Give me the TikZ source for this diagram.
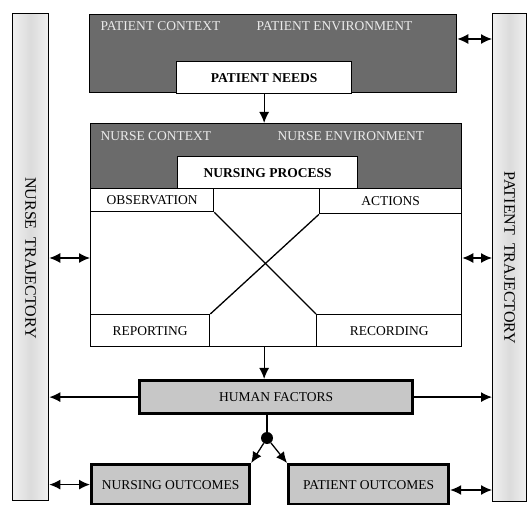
\documentclass[tikz,border=0pt]{standalone}
\usepackage{fontspec}
\setmainfont{Liberation Serif}
\usetikzlibrary{arrows.meta,positioning}

\begin{document}
\begin{tikzpicture}[x=1pt,y=-1pt,
    font=\fontsize{13.5}{15}\selectfont,
    box/.style={draw,line width=1.3pt,inner sep=0pt,anchor=north west},
    dunkel/.style={box,fill=black!58},
    weiss/.style={box,fill=white},
    balken/.style={box,left color=black!6,right color=black!6,middle color=black!14},
    fett/.style={box,fill=black!22,line width=3.2pt},
    hell/.style={text=black!8,anchor=west},
    pfeil/.style={-{Latex[length=11pt,width=10pt]},line width=1.3pt},
    dpfeil/.style={{Latex[length=11pt,width=10pt]}-{Latex[length=11pt,width=10pt]},line width=1.3pt}]
    \useasboundingbox (0,0) rectangle (528,505);

    % Trajektorien links und rechts
    \node[balken,minimum width=36,minimum height=487] (links) at (12,13) {};
    \node[balken,minimum width=34,minimum height=488] (rechts) at (492,13) {};
    \node[rotate=-90,font=\fontsize{16}{18}\selectfont] (nurseT) at (links.center |- 0,258) {NURSE\ \ TRAJECTORY};
    \node[rotate=-90,font=\fontsize{16}{18}\selectfont] (patT) at (rechts.center |- 0,258) {PATIENT\ \ TRAJECTORY};

    % Patient
    \node[dunkel,minimum width=367,minimum height=78] (patient) at (89,14) {};
    \node[hell] (pctx) at (97,26) {PATIENT CONTEXT};
    \node[hell] (penv) at (253,26) {PATIENT ENVIRONMENT};
    \node[weiss,minimum width=175,minimum height=32,font=\fontsize{13.5}{15}\selectfont\bfseries] (needs) at (176,61) {PATIENT NEEDS};

    % Pflegeprozess
    \node[weiss,minimum width=371,minimum height=223] (haupt) at (90,123) {};
    \node[dunkel,minimum width=371,minimum height=65] (nurse) at (90,123) {};
    \node[hell] (nctx) at (97,136) {NURSE CONTEXT};
    \node[hell] (nenv) at (274,136) {NURSE ENVIRONMENT};
    \node[weiss,minimum width=180,minimum height=32,font=\fontsize{13.5}{15}\selectfont\bfseries] (prozess) at (177,156) {NURSING PROCESS};
    \node[weiss,minimum width=123,minimum height=23] (beob) at (90,188) {OBSERVATION};
    \node[weiss,minimum width=142,minimum height=25] (akt) at (319,188) {ACTIONS};
    \node[weiss,minimum width=119,minimum height=32] (ber) at (90,314) {REPORTING};
    \node[weiss,minimum width=145,minimum height=32] (aufz) at (316,314) {RECORDING};
    \draw[line width=1.3pt] (beob.south east) -- (aufz.north west); % Kreuz
    \draw[line width=1.3pt] (akt.south west) -- (ber.north east);

    % Faktoren und Ergebnisse
    \node[fett,minimum width=273,minimum height=33] (human) at (138,379) {HUMAN FACTORS};
    \node[fett,minimum width=158,minimum height=40] (ergN) at (90,463) {NURSING OUTCOMES};
    \node[fett,minimum width=160,minimum height=40] (ergP) at (287,463) {PATIENT OUTCOMES};
    \node[circle,fill=black,inner sep=0pt,minimum size=12] (punkt) at (267,438) {};

    % Pfeile
    \draw[pfeil] (needs.south) -- (needs.south |- nurse.north);
    \draw[pfeil] (needs.south |- haupt.south) -- (needs.south |- human.north);
    \draw[line width=1.3pt] (punkt |- human.south) -- (punkt);
    \draw[pfeil] (punkt) -- (ergN.north east);
    \draw[pfeil] (punkt) -- (ergP.north west);
    \draw[pfeil] (human.west) -- (links.east |- human.west);
    \draw[pfeil] (human.east) -- (rechts.west |- human.east);
    \draw[dpfeil] (patient.east |- 0,39) -- (rechts.west |- 0,39);
    \draw[dpfeil] (links.east |- 0,258) -- (haupt.west |- 0,258);
    \draw[dpfeil] (haupt.east |- 0,258) -- (rechts.west |- 0,258);
    \draw[dpfeil] (links.east |- ergN.west) -- (ergN.west);
    \draw[dpfeil] (ergP.east |- 0,490) -- (rechts.west |- 0,490);
\end{tikzpicture}
\end{document}
